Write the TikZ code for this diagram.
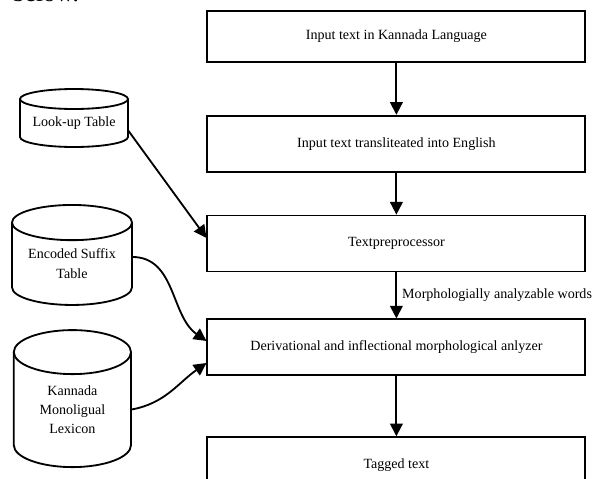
\documentclass[tikz,border=0pt]{standalone}
\usepackage{fontspec}
\setmainfont{Liberation Serif}
\usepackage{tikz}
\usetikzlibrary{arrows.meta,positioning}

\begin{document}
\begin{tikzpicture}[
  stepbox/.style={draw, line width=1.3pt, minimum width=9.45cm, minimum height=1.4cm, font=\fontsize{10}{12}\selectfont, align=center},
  store/.style={rectangle, inner sep=0pt, outer sep=0pt, font=\fontsize{10}{13.8}\selectfont, align=center},
  storeline/.style={line width=1.3pt},
  arr/.style={-{Triangle[length=9pt,width=9pt]}, line width=1.3pt},
  node distance=1.2cm
]
  \useasboundingbox (0,0) rectangle (14.8,-11.975);

  % stray line of the page text
  \node[anchor=base west, inner sep=0pt, font=\fontsize{18}{20}\selectfont] (pagetext) at (0.3,-0.03) {below.};

  % Main flow
  \node[stepbox, minimum height=1.275cm] (inp) at (9.91,-0.91) {Input text in Kannada Language};
  \node[stepbox, below=1.3cm of inp] (trans) {Input text transliteated into English};
  \node[stepbox, below=1.05cm of trans] (pre) {Textpreprocessor};
  \node[stepbox, below=1.15cm of pre] (ana) {Derivational and inflectional morphological anlyzer};
  \node[stepbox, below=1.5cm of ana] (tag) {Tagged text};

  % Stores (body below the top ellipse)
  \node[store, minimum width=2.7cm, minimum height=1.2cm] (lut) at (1.85,-3.075) {Look-up Table};
  \node[store, minimum width=3.0cm, minimum height=2.06cm] (suf) at (1.8,-6.594) {Encoded Suffix\\Table};
  \node[store, minimum width=2.93cm, minimum height=2.875cm] (lex) at (1.81,-10.24) {Kannada\\Monoligual\\Lexicon};

  \draw[storeline] (lut.north) ellipse [x radius=1.35cm, y radius=0.25cm];
  \draw[storeline] (lut.north west) -- ([yshift=0.25cm]lut.south west)
    arc[start angle=180, end angle=360, x radius=1.35cm, y radius=0.25cm] -- (lut.north east);
  \draw[storeline] (suf.north) ellipse [x radius=1.5cm, y radius=0.44cm];
  \draw[storeline] (suf.north west) -- ([yshift=0.44cm]suf.south west)
    arc[start angle=180, end angle=360, x radius=1.5cm, y radius=0.44cm] -- (suf.north east);
  \draw[storeline] (lex.north) ellipse [x radius=1.465cm, y radius=0.55cm];
  \draw[storeline] (lex.north west) -- ([yshift=0.55cm]lex.south west)
    arc[start angle=180, end angle=360, x radius=1.465cm, y radius=0.55cm] -- (lex.north east);

  % Arrows
  \draw[arr] (inp) -- (trans);
  \draw[arr] (trans) -- (pre);
  \draw[arr] (pre) -- node[right, inner sep=3.5pt, font=\fontsize{10}{12}\selectfont] {Morphologially analyzable words} (ana);
  \draw[arr] (ana) -- (tag);
  \draw[arr] ([yshift=-0.18cm]lut.east) -- ([yshift=0.14cm]pre.west);
  \draw[arr] ([yshift=0.17cm]suf.east) to[out=0, in=145] ([yshift=0.16cm]ana.west);
  \draw[arr] (lex.east) to[out=10, in=215] ([yshift=-0.39cm]ana.west);
\end{tikzpicture}
\end{document}
